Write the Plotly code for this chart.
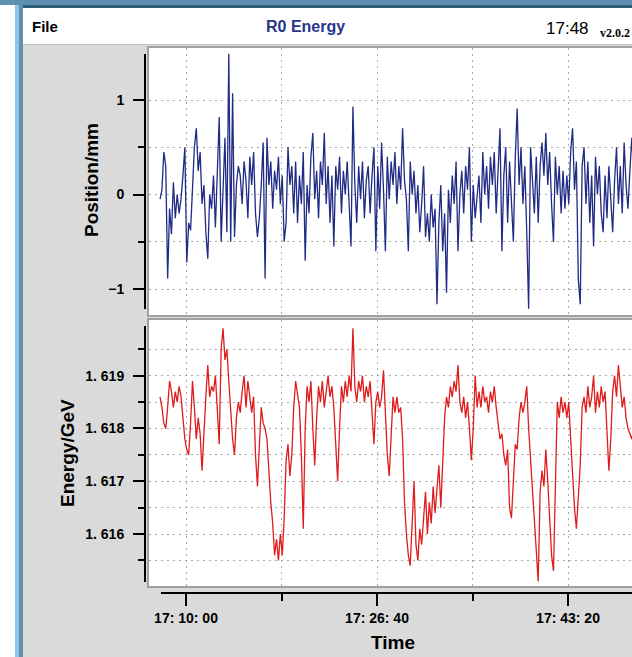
import plotly.graph_objects as go
import pandas as pd

W, H = 632, 657

# ---------------- data ----------------
start_time = "2000-01-01 17:07:44"
step_seconds = 10

position_mm = [
    -0.05, 0.05, 0.45, 0.30, -0.89, -0.15, -0.42, 0.13, -0.25, 0.00,
    -0.20, -0.05, 0.20, 0.50, -0.72, -0.30, -0.38, 0.15, 0.50, 0.70,
    0.25, 0.45, -0.10, 0.10, -0.40, -0.68, 0.00, -0.15, 0.20, -0.35,
    0.35, 0.82, -0.50, 0.10, 0.60, -0.40, 1.49, -0.50, 1.07, -0.45,
    0.10, 0.30, 0.20, -0.10, 0.35, 0.15, -0.25, 0.40, 0.10, 0.45,
    -0.20, -0.45, -0.25, 0.10, 0.55, -0.89, 0.60, 0.10, 0.35, -0.15,
    0.25, 0.05, 0.40, -0.10, 0.20, -0.50, -0.30, 0.50, 0.10, 0.30,
    -0.20, 0.35, -0.30, 0.20, -0.10, 0.45, -0.70, 0.10, -0.20, 0.40,
    0.65, -0.05, 0.25, -0.25, 0.35, 0.10, 0.65, -0.10, 0.30, -0.30,
    0.20, -0.55, 0.30, 0.05, 0.40, -0.20, 0.25, 0.00, 0.35, -0.10,
    -0.55, 0.93, 0.10, -0.30, 0.30, -0.05, 0.35, -0.25, 0.15, 0.30,
    -0.20, 0.20, 0.50, -0.60, 0.30, -0.15, 0.55, 0.05, -0.60, 0.40,
    -0.05, 0.35, 0.10, 0.45, -0.10, 0.30, 0.05, 0.70, 0.15, -0.05,
    -0.60, 0.35, 0.00, 0.25, -0.20, 0.10, -0.40, -0.10, 0.30, -0.45,
    -0.20, -0.50, 0.00, -0.35, -0.15, -1.16, -0.30, 0.10, -0.60, -0.20,
    -1.04, 0.05, -0.30, 0.20, -0.10, 0.35, -0.60, 0.00, 0.25, -0.20,
    0.30, 0.05, 0.50, -0.50, 0.10, -0.25, 0.00, 0.20, -0.30, 0.45,
    0.00, 0.30, -0.15, 0.40, 0.10, 0.45, -0.20, 0.25, 0.70, -0.60,
    0.20, 0.50, -0.30, 0.35, -0.10, -0.50, 0.40, 0.91, 0.10, 0.50,
    -0.10, 0.30, -0.40, -1.21, 0.50, 0.20, -0.20, 0.40, -0.30, 0.30,
    0.55, 0.20, 0.65, 0.10, 0.45, -0.10, -0.50, 0.40, 0.00, 0.30,
    -0.20, 0.25, -0.15, 0.20, -0.10, 0.45, 0.70, 0.05, 0.35, -0.90,
    -1.16, 0.30, 0.50, -0.10, 0.35, -0.30, 0.20, -0.55, 0.40, 0.00,
    0.30, -0.20, -0.40, 0.20, -0.25, 0.30, 0.00, -0.40, 0.15, 0.50,
    -0.10, 0.30, -0.20, 0.55, 0.10, -0.15, 0.25, 0.60, 0.20,
]

energy_gev = [
    1.6186, 1.6184, 1.6181, 1.6180, 1.6184, 1.6189, 1.6187, 1.6184, 1.6187, 1.6185,
    1.6188, 1.6186, 1.6182, 1.6178, 1.6176, 1.6175, 1.6181, 1.6189, 1.6184, 1.6178,
    1.6182, 1.6179, 1.6172, 1.6180, 1.6186, 1.6192, 1.6186, 1.6188, 1.6187, 1.6190,
    1.6182, 1.6177, 1.6195, 1.6199, 1.6193, 1.6195, 1.6189, 1.6184, 1.6178, 1.6175,
    1.6182, 1.6185, 1.6183, 1.6187, 1.6190, 1.6184, 1.6189, 1.6186, 1.6183, 1.6186,
    1.6175, 1.6169, 1.6176, 1.6184, 1.6181, 1.6180, 1.6178, 1.6171, 1.6166, 1.6162,
    1.6156, 1.6159, 1.6155, 1.6160, 1.6156, 1.6163, 1.6174, 1.6177, 1.6171, 1.6175,
    1.6184, 1.6189, 1.6186, 1.6184, 1.6175, 1.6161, 1.6180, 1.6188, 1.6185, 1.6189,
    1.6180, 1.6173, 1.6182, 1.6188, 1.6185, 1.6189, 1.6184, 1.6187, 1.6190, 1.6186,
    1.6188, 1.6184, 1.6176, 1.6170, 1.6180, 1.6188, 1.6185, 1.6189, 1.6186, 1.6190,
    1.6187, 1.6199, 1.6188, 1.6185, 1.6189, 1.6187, 1.6190, 1.6185, 1.6188, 1.6186,
    1.6189, 1.6183, 1.6177, 1.6185, 1.6187, 1.6184, 1.6186, 1.6191, 1.6183, 1.6175,
    1.6171, 1.6178, 1.6186, 1.6183, 1.6186, 1.6183, 1.6184, 1.6178, 1.6166, 1.6160,
    1.6156, 1.6154, 1.6163, 1.6170, 1.6158, 1.6155, 1.6161, 1.6158, 1.6163, 1.6168,
    1.6160, 1.6166, 1.6162, 1.6169, 1.6164, 1.6168, 1.6173, 1.6165, 1.6174, 1.6182,
    1.6186, 1.6184, 1.6188, 1.6186, 1.6189, 1.6187, 1.6192, 1.6185, 1.6183, 1.6186,
    1.6182, 1.6185, 1.6180, 1.6174, 1.6180, 1.6190, 1.6184, 1.6187, 1.6184, 1.6188,
    1.6185, 1.6186, 1.6183, 1.6187, 1.6185, 1.6188, 1.6184, 1.6181, 1.6178, 1.6179,
    1.6175, 1.6173, 1.6176, 1.6165, 1.6163, 1.6170, 1.6177, 1.6176, 1.6182, 1.6185,
    1.6183, 1.6185, 1.6188, 1.6180, 1.6174, 1.6170, 1.6162, 1.6158, 1.6151, 1.6168,
    1.6172, 1.6169, 1.6176, 1.6170, 1.6162, 1.6156, 1.6153, 1.6170, 1.6185, 1.6182,
    1.6186, 1.6183, 1.6185, 1.6182, 1.6185, 1.6178, 1.6171, 1.6165, 1.6161, 1.6168,
    1.6173, 1.6184, 1.6186, 1.6183, 1.6188, 1.6184, 1.6186, 1.6190, 1.6183, 1.6187,
    1.6184, 1.6188, 1.6185, 1.6187, 1.6180, 1.6172, 1.6178, 1.6187, 1.6190, 1.6186,
    1.6192, 1.6188, 1.6184, 1.6186, 1.6182, 1.6180, 1.6179, 1.6178, 1.6180,
]

pos_tickvals = [-1, 0, 1]
pos_ticktext = ["\u22121", "0", "1"]
pos_minorvals = [-0.5, 0.5]

en_tickvals = [1.616, 1.617, 1.618, 1.619]
en_ticktext = ["1. 616", "1. 617", "1. 618", "1. 619"]
en_minorvals = [1.6155, 1.6165, 1.6175, 1.6185, 1.6195]

time_tickvals = ["2000-01-01 17:10:00", "2000-01-01 17:26:40", "2000-01-01 17:43:20"]
time_ticktext = ["17: 10: 00", "17: 26: 40", "17: 43: 20"]
time_minorvals = ["2000-01-01 17:18:20", "2000-01-01 17:35:00"]

times = pd.date_range(start_time, periods=len(position_mm), freq=f"{step_seconds}s")

# ---------------- layout helpers ----------------
def fx(px):
    return px / W

def fy(py):
    return 1 - py / H

ref_t = pd.Timestamp("2000-01-01 17:10:00")
ref_px = 186.0
px_per_s = 0.191
plot_left, plot_right = 149, 632
x_range = [ref_t - pd.Timedelta(seconds=(ref_px - plot_left) / px_per_s),
           ref_t + pd.Timedelta(seconds=(plot_right - ref_px) / px_per_s)]

TOP = (48, 315)
BOT = (320, 586)

GRID = dict(showgrid=True, gridcolor="#a8a8a8", gridwidth=1, griddash="2px,4px")
TICKFONT = dict(family="Liberation Sans", size=14, color="black", weight="bold")

fig = go.Figure()
fig.add_trace(go.Scatter(x=times, y=position_mm, mode="lines",
                         line=dict(color="#1f2b84", width=1.3),
                         xaxis="x", yaxis="y", hoverinfo="skip", showlegend=False))
fig.add_trace(go.Scatter(x=times, y=energy_gev, mode="lines",
                         line=dict(color="#e01b1b", width=1.3),
                         xaxis="x2", yaxis="y2", hoverinfo="skip", showlegend=False))

xcommon = dict(domain=[fx(plot_left), 1], range=x_range, type="date",
               tickmode="array", tickvals=time_tickvals, zeroline=False, showline=False,
               **GRID)

fig.update_layout(
    width=W, height=H,
    margin=dict(l=0, r=0, t=0, b=0),
    paper_bgcolor="#d9dad9",
    plot_bgcolor="white",
    showlegend=False,
    xaxis=dict(anchor="y", showticklabels=False, ticks="",
               minor=dict(tickmode="array", tickvals=time_minorvals, ticks="",
                          showgrid=True, gridcolor="#a8a8a8", griddash="2px,4px"),
               **xcommon),
    xaxis2=dict(anchor="free", position=fy(593), ticks="outside", ticklen=12,
                tickwidth=2, tickcolor="black", ticktext=time_ticktext,
                tickfont=TICKFONT, ticklabelstandoff=0,
                minor=dict(tickmode="array", tickvals=time_minorvals, ticks="outside",
                           ticklen=7, tickwidth=2, tickcolor="black",
                           showgrid=True, gridcolor="#a8a8a8", griddash="2px,4px"),
                **xcommon),
    yaxis=dict(domain=[fy(TOP[1]), fy(TOP[0])],
               range=[-(TOP[1] - 194.5) / 94.5, (194.5 - TOP[0]) / 94.5],
               anchor="free", position=fx(145), ticks="outside", ticklen=12,
               tickwidth=2, tickcolor="black", tickmode="array",
               tickvals=pos_tickvals, ticktext=pos_ticktext, tickfont=TICKFONT,
               ticklabelstandoff=6,
               zeroline=False, showline=False,
               minor=dict(tickmode="array", tickvals=pos_minorvals, ticks="outside",
                          ticklen=7, tickwidth=2, tickcolor="black",
                          showgrid=True, gridcolor="#a8a8a8", griddash="2px,4px"),
               **GRID),
    yaxis2=dict(domain=[fy(BOT[1]), fy(BOT[0])],
                range=[1.616 - (BOT[1] - 534.0) / 52770, 1.619 + (375.7 - BOT[0]) / 52770],
                anchor="free", position=fx(145), ticks="outside", ticklen=12,
                tickwidth=2, tickcolor="black", tickmode="array",
                tickvals=en_tickvals, ticktext=en_ticktext, tickfont=TICKFONT,
                ticklabelstandoff=6,
                zeroline=False, showline=False,
                minor=dict(tickmode="array", tickvals=en_minorvals, ticks="outside",
                           ticklen=7, tickwidth=2, tickcolor="black",
                           showgrid=True, gridcolor="#a8a8a8", griddash="2px,4px"),
                **GRID),
)

def rect(x0, y0, x1, y1, fill=None, line=None, lw=0, layer="above"):
    d = dict(type="rect", xref="paper", yref="paper",
             x0=fx(x0), x1=fx(x1), y0=fy(y1), y1=fy(y0), layer=layer)
    d["fillcolor"] = fill if fill else "rgba(0,0,0,0)"
    d["line"] = dict(color=line or "rgba(0,0,0,0)", width=lw)
    return d

def hline(x0, x1, y, color="black", lw=2):
    return dict(type="line", xref="paper", yref="paper", x0=fx(x0), x1=fx(x1),
                y0=fy(y), y1=fy(y), line=dict(color=color, width=lw))

def vline(x, y0, y1, color="black", lw=2):
    return dict(type="line", xref="paper", yref="paper", x0=fx(x), x1=fx(x),
                y0=fy(y0), y1=fy(y1), line=dict(color=color, width=lw))

shapes = [
    rect(0, 0, W, 5, fill="#5e90b2"),
    rect(15, 5, W, 8, fill="#2f5e79"),
    rect(0, 5, 15, H, fill="white"),
    rect(23, 8, W, 44, fill="white"),
    hline(23, W, 44.5, color="#c4c6c5", lw=1),
    rect(15, 5, 19, H, fill="#8dc5e2"),
    rect(19, 5, 23, H, fill="#5c90ad"),
    rect(148, 47, W + 10, 316, line="#a0a0a0", lw=2),
    rect(148, 319, W + 10, 587, line="#a0a0a0", lw=2),
    vline(145, 54, 309),
    vline(145, 326, 582),
    hline(161, W, 593),
]
fig.update_layout(shapes=shapes)

def ann(text, x, y, size, color="black", weight="normal", family="Liberation Sans",
        xanchor="center", angle=0):
    return dict(text=text, xref="paper", yref="paper", x=fx(x), y=fy(y),
                xanchor=xanchor, yanchor="middle", showarrow=False, textangle=angle,
                font=dict(family=family, size=size, color=color, weight=weight))

annotations = [
    ann("File", 45, 27, 15, weight="bold"),
    ann("R0 Energy", 305, 27, 16, color="#27348b", weight="bold"),
    ann("17:48", 567, 28, 17),
    ann("v2.0.2", 598, 33, 12, family="Liberation Serif", weight="bold", xanchor="left"),
    ann("Position/mm", 91, 180, 19, weight="bold", angle=-90),
    ann("Energy/GeV", 67, 453, 19, weight="bold", angle=-90),
    ann("Time", 393, 642, 19, weight="bold"),
]
fig.update_layout(annotations=annotations)

fig.write_html(
    "out.html",
    config={"displayModeBar": False},
    post_script="document.body.style.margin='0px';document.body.style.overflow='hidden';",
)
